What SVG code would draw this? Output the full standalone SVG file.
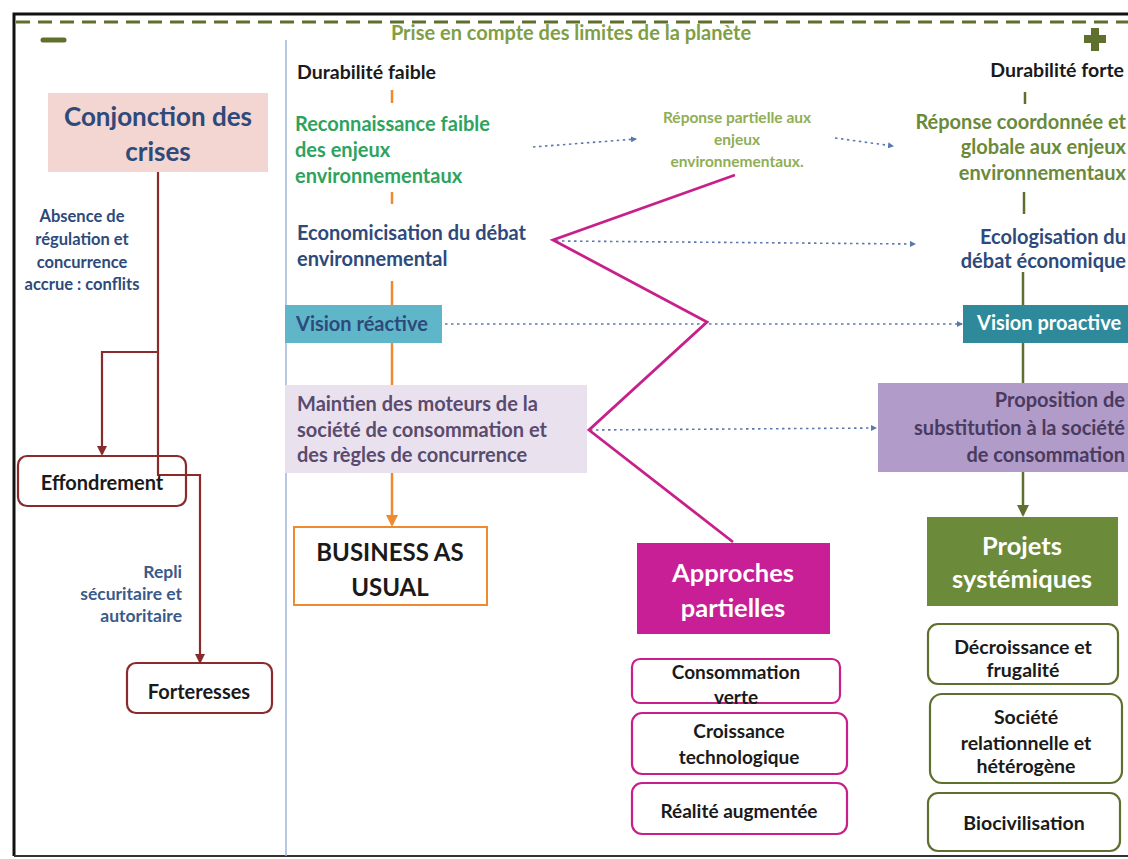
<svg xmlns="http://www.w3.org/2000/svg" width="1128" height="859" viewBox="0 0 1128 859">
<style>
text{font-family:Lato,"Liberation Sans",sans-serif;font-weight:bold}
.blue{fill:#2e4a7a}
.blk{fill:#1a1a1a}
.dot{stroke:#5a78b0;stroke-width:1.6;stroke-dasharray:2.5 3.5;fill:none}
.red{stroke:#8b2a2a;stroke-width:2.2;fill:none}
.org{stroke:#ef8a30;stroke-width:2.5;fill:none}
.olv{stroke:#5f6f2e;stroke-width:2.5;fill:none}
.mag{stroke:#c8208a;stroke-width:2.8;fill:none;stroke-linejoin:miter}
</style>
<defs>
<marker id="aRed" markerWidth="10" markerHeight="10" refX="8" refY="5" orient="auto" markerUnits="userSpaceOnUse"><path d="M0,0 L10,5 L0,10 z" fill="#8b2a2a"/></marker>
<marker id="aOrg" markerWidth="12" markerHeight="12" refX="10" refY="6" orient="auto" markerUnits="userSpaceOnUse"><path d="M0,0 L12,6 L0,12 z" fill="#ef8a30"/></marker>
<marker id="aOlv" markerWidth="12" markerHeight="12" refX="10" refY="6" orient="auto" markerUnits="userSpaceOnUse"><path d="M0,0 L12,6 L0,12 z" fill="#5f6f2e"/></marker>
<marker id="aDot" markerWidth="6" markerHeight="6" refX="5" refY="3" orient="auto" markerUnits="userSpaceOnUse"><path d="M0,0 L6,3 L0,6 z" fill="#5a78b0"/></marker>
</defs>
<rect width="1128" height="859" fill="#ffffff"/>
<g id="frame">
<path d="M14,856 L14,14 L1128,14" fill="none" stroke="#111" stroke-width="3"/>
<line x1="14" y1="856" x2="1128" y2="856" stroke="#333" stroke-width="2"/>
<line x1="16" y1="22" x2="1128" y2="22" stroke="#5f6f2e" stroke-width="3" stroke-dasharray="14 8"/>
<line x1="286" y1="40" x2="286" y2="856" stroke="#9fb3d8" stroke-width="1.5"/>
<line x1="43" y1="40" x2="64" y2="40" stroke="#5f6f2e" stroke-width="5" stroke-linecap="round"/>
<path d="M1091,28 h8 v7 h7 v8 h-7 v8 h-8 v-8 h-7 v-8 h7 z" fill="#5f6f2e"/>
<text x="571" y="40" text-anchor="middle" font-size="20" fill="#7f9e45">Prise en compte des limites de la planète</text>
</g>
<g id="connectors">
<path class="red" d="M158,172 V475 H200 V662" marker-end="url(#aRed)"/>
<path class="red" d="M158,352 H102 V454" marker-end="url(#aRed)"/>
<line class="org" x1="392" y1="90" x2="392" y2="103"/>
<line class="org" x1="392" y1="192" x2="392" y2="204"/>
<line class="org" x1="392" y1="281" x2="392" y2="305"/>
<line class="org" x1="392" y1="343" x2="392" y2="385"/>
<line class="org" x1="392" y1="473" x2="392" y2="525" marker-end="url(#aOrg)"/>
<line class="olv" x1="1025" y1="92" x2="1025" y2="104"/>
<line class="olv" x1="1024" y1="192" x2="1024" y2="214"/>
<line class="olv" x1="1023" y1="272" x2="1023" y2="305"/>
<line class="olv" x1="1023" y1="343" x2="1023" y2="383"/>
<line class="olv" x1="1023" y1="472" x2="1023" y2="515" marker-end="url(#aOlv)"/>
<line class="dot" x1="533" y1="147" x2="636" y2="139" marker-end="url(#aDot)"/>
<line class="dot" x1="835" y1="138" x2="893" y2="146" marker-end="url(#aDot)"/>
<line class="dot" x1="556" y1="241" x2="915" y2="244" marker-end="url(#aDot)"/>
<line class="dot" x1="445" y1="324" x2="962" y2="324" marker-end="url(#aDot)"/>
<line class="dot" x1="590" y1="430" x2="876" y2="428" marker-end="url(#aDot)"/>
<polyline class="mag" points="735,175 553,240 707,322 589,430 733,542"/>
</g>
<g id="conjonction">
<rect x="48" y="93" width="220" height="79" fill="#f3d5d1"/>
<text x="158" y="126" text-anchor="middle" font-size="26" class="blue">Conjonction des</text>
<text x="158" y="161" text-anchor="middle" font-size="26" class="blue">crises</text>
</g>
<g id="absence" font-size="16.5">
<text x="82" y="222" text-anchor="middle" class="blue">Absence de</text>
<text x="82" y="245" text-anchor="middle" class="blue">régulation et</text>
<text x="82" y="268" text-anchor="middle" class="blue">concurrence</text>
<text x="82" y="290" text-anchor="middle" class="blue">accrue : conflits</text>
</g>
<g id="effondrement">
<rect x="18" y="456" width="168" height="50" rx="9" fill="none" stroke="#8b2a2a" stroke-width="2.2"/>
<text x="102" y="490" text-anchor="middle" font-size="20" class="blk">Effondrement</text>
</g>
<g id="repli" font-size="17.5">
<text x="182" y="578" text-anchor="end" fill="#3a5a8a">Repli</text>
<text x="182" y="600" text-anchor="end" fill="#3a5a8a">sécuritaire et</text>
<text x="182" y="622" text-anchor="end" fill="#3a5a8a">autoritaire</text>
</g>
<g id="forteresses">
<rect x="127" y="663" width="145" height="50" rx="9" fill="#fff" stroke="#8b2a2a" stroke-width="2.2"/>
<text x="199" y="699" text-anchor="middle" font-size="20" class="blk">Forteresses</text>
</g>
<g id="durabilite-faible"><text x="297" y="79" font-size="19.5" class="blk">Durabilité faible</text></g>
<g id="reconnaissance" font-size="20" fill="#2ea35e">
<text x="295" y="131">Reconnaissance faible</text>
<text x="295" y="157">des enjeux</text>
<text x="295" y="183">environnementaux</text>
</g>
<g id="economicisation" font-size="20" class="blue">
<text x="297" y="240">Economicisation du débat</text>
<text x="297" y="266">environnemental</text>
</g>
<g id="vision-reactive">
<rect x="285" y="305" width="157" height="38" fill="#5fb6c9"/>
<text x="296" y="331" font-size="20" class="blue">Vision réactive</text>
</g>
<g id="maintien">
<rect x="285" y="385" width="302" height="88" fill="#e9e2ee"/>
<g font-size="20" fill="#5a4b6e">
<text x="297" y="411">Maintien des moteurs de la</text>
<text x="297" y="437">société de consommation et</text>
<text x="297" y="462">des règles de concurrence</text>
</g>
</g>
<g id="business">
<rect x="294" y="527" width="193" height="78" fill="#fff" stroke="#ef8a30" stroke-width="2"/>
<text x="390" y="561" text-anchor="middle" font-size="24" class="blk">BUSINESS AS</text>
<text x="390" y="596" text-anchor="middle" font-size="24" class="blk">USUAL</text>
</g>
<g id="reponse-partielle" font-size="15.5" fill="#8fae55" text-anchor="middle">
<text x="737" y="123">Réponse partielle aux</text>
<text x="737" y="145">enjeux</text>
<text x="737" y="167">environnementaux.</text>
</g>
<g id="approches">
<rect x="637" y="543" width="193" height="91" fill="#c81e96"/>
<text x="733" y="582" text-anchor="middle" font-size="25.5" fill="#fff">Approches</text>
<text x="733" y="617" text-anchor="middle" font-size="25.5" fill="#fff">partielles</text>
</g>
<g id="consommation-verte">
<rect x="632" y="659" width="208" height="44" rx="8" fill="#fff" stroke="#c8208a" stroke-width="2.2"/>
<text x="736" y="679" text-anchor="middle" font-size="19" class="blk">Consommation</text>
<text x="736" y="704" text-anchor="middle" font-size="19" class="blk">verte</text>
</g>
<g id="croissance">
<rect x="632" y="713" width="215" height="61" rx="10" fill="#fff" stroke="#c8208a" stroke-width="2.2"/>
<text x="739" y="738" text-anchor="middle" font-size="19" class="blk">Croissance</text>
<text x="739" y="764" text-anchor="middle" font-size="19" class="blk">technologique</text>
</g>
<g id="realite">
<rect x="632" y="783" width="215" height="51" rx="10" fill="#fff" stroke="#c8208a" stroke-width="2.2"/>
<text x="739" y="818" text-anchor="middle" font-size="19" class="blk">Réalité augmentée</text>
</g>
<g id="durabilite-forte"><text x="1124" y="77" text-anchor="end" font-size="19.5" class="blk">Durabilité forte</text></g>
<g id="reponse-coordonnee" font-size="20" fill="#6a8a3a" text-anchor="end">
<text x="1126" y="129">Réponse coordonnée et</text>
<text x="1126" y="154">globale aux enjeux</text>
<text x="1126" y="180">environnementaux</text>
</g>
<g id="ecologisation" font-size="20" class="blue" text-anchor="end">
<text x="1126" y="244">Ecologisation du</text>
<text x="1126" y="268">débat économique</text>
</g>
<g id="vision-proactive">
<rect x="963" y="305" width="165" height="38" fill="#2e8a9b"/>
<text x="977" y="330" font-size="20" fill="#fff">Vision proactive</text>
</g>
<g id="proposition">
<rect x="878" y="383" width="250" height="89" fill="#b09bc9"/>
<g font-size="20" fill="#4a3a5e" text-anchor="end">
<text x="1125" y="407">Proposition de</text>
<text x="1125" y="435">substitution à la société</text>
<text x="1125" y="462">de consommation</text>
</g>
</g>
<g id="projets">
<rect x="927" y="517" width="191" height="89" fill="#6b8a3a"/>
<text x="1022" y="555" text-anchor="middle" font-size="25.5" fill="#fff">Projets</text>
<text x="1022" y="588" text-anchor="middle" font-size="25.5" fill="#fff">systémiques</text>
</g>
<g id="decroissance">
<rect x="928" y="624" width="190" height="60" rx="10" fill="#fff" stroke="#5f6f2e" stroke-width="2.2"/>
<text x="1023" y="654" text-anchor="middle" font-size="19.5" class="blk">Décroissance et</text>
<text x="1023" y="677" text-anchor="middle" font-size="19.5" class="blk">frugalité</text>
</g>
<g id="societe">
<rect x="930" y="694" width="192" height="89" rx="12" fill="#fff" stroke="#5f6f2e" stroke-width="2.2"/>
<text x="1026" y="724" text-anchor="middle" font-size="19.5" class="blk">Société</text>
<text x="1026" y="750" text-anchor="middle" font-size="19.5" class="blk">relationnelle et</text>
<text x="1026" y="773" text-anchor="middle" font-size="19.5" class="blk">hétérogène</text>
</g>
<g id="biocivilisation">
<rect x="928" y="793" width="192" height="58" rx="10" fill="#fff" stroke="#5f6f2e" stroke-width="2.2"/>
<text x="1024" y="830" text-anchor="middle" font-size="19.5" class="blk">Biocivilisation</text>
</g>
</svg>
